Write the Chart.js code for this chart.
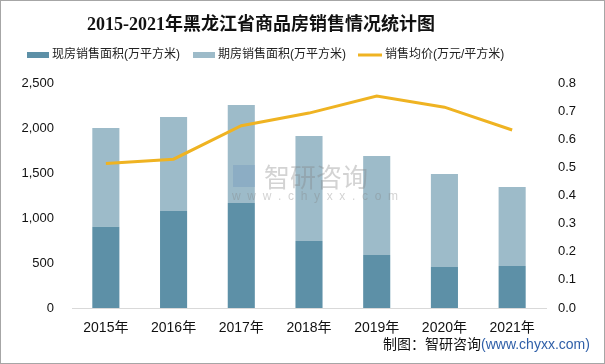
<!DOCTYPE html>
<html><head><meta charset="utf-8">
<script src="https://cdn.jsdelivr.net/npm/chart.js@4.4.1/dist/chart.umd.min.js"></script>
<style>html,body{margin:0;padding:0;background:#fff;}canvas{display:block;}</style>
</head><body>
<canvas id="c" width="605" height="364"></canvas>
<script>
const categories = ['2015年','2016年','2017年','2018年','2019年','2020年','2021年'];
const existingArea = [903, 1078, 1167, 744, 589, 456, 467];
const futureArea = [1097, 1044, 1089, 1167, 1100, 1033, 877];
const avgPrice = [0.514, 0.529, 0.648, 0.693, 0.754, 0.714, 0.633];
const seriesNames = ['现房销售面积(万平方米)','期房销售面积(万平方米)','销售均价(万元/平方米)'];
const titleText = '2015-2021年黑龙江省商品房销售情况统计图';

const C_DARK = '#5d90a7', C_LIGHT = '#9dbbc9', C_LINE = '#efb322';
const CJK = '"Liberation Sans","Noto Sans CJK SC",sans-serif';

const decor = {
  id: 'decor',
  afterDatasetsDraw(chart) {
    const ctx = chart.ctx;
    ctx.save();
    ctx.textBaseline = 'middle';
    ctx.textAlign = 'left';
    ctx.fillStyle = 'rgba(110,150,185,0.35)';
    ctx.fillRect(233, 165, 22, 22);
    ctx.fillStyle = 'rgba(130,130,130,0.35)';
    ctx.font = '26px "Noto Sans CJK SC",sans-serif';
    ctx.fillText('智研咨询', 264, 177);
    ctx.font = '12px "Liberation Sans",sans-serif';
    ctx.fillText('w  w  w  .  c  h  y  x  x  .  c  o  m', 232, 197);
    ctx.restore();
  },
  afterDraw(chart) {
    const ctx = chart.ctx;
    ctx.save();
    ctx.fillStyle = '#111';
    ctx.font = 'bold 18px "Liberation Serif","Noto Sans CJK SC",serif';
    ctx.textAlign = 'center';
    ctx.textBaseline = 'middle';
    ctx.fillText(titleText, 261, 25);
    ctx.font = '12px ' + CJK;
    ctx.textAlign = 'left';
    ctx.fillStyle = C_DARK; ctx.fillRect(27, 52, 22, 6);
    ctx.fillStyle = C_LIGHT; ctx.fillRect(193, 52, 22, 6);
    ctx.strokeStyle = C_LINE; ctx.lineWidth = 3;
    ctx.beginPath(); ctx.moveTo(358, 55); ctx.lineTo(382, 55); ctx.stroke();
    ctx.fillStyle = '#222';
    ctx.fillText(seriesNames[0], 52, 55);
    ctx.fillText(seriesNames[1], 218, 55);
    ctx.fillText(seriesNames[2], 385, 55);
    ctx.font = '14px ' + CJK;
    const t1 = '制图：智研咨询';
    ctx.fillStyle = '#111';
    ctx.fillText(t1, 383, 345);
    const w = ctx.measureText(t1).width;
    ctx.fillStyle = '#2f5fa8';
    ctx.fillText('(www.chyxx.com)', 383 + w, 345);
    ctx.strokeStyle = '#a6a6a6'; ctx.lineWidth = 1;
    ctx.strokeRect(0.5, 0.5, 604, 363);
    ctx.restore();
  }
};

new Chart(document.getElementById('c'), {
  data: {
    labels: categories,
    datasets: [
      { type: 'line', label: seriesNames[2], data: avgPrice, yAxisID: 'y1',
        borderColor: C_LINE, borderWidth: 3, pointRadius: 0, tension: 0, order: 0 },
      { type: 'bar', label: seriesNames[0], data: existingArea, yAxisID: 'y',
        backgroundColor: C_DARK, barPercentage: 0.8, categoryPercentage: 0.5, order: 1, stack: 's' },
      { type: 'bar', label: seriesNames[1], data: futureArea, yAxisID: 'y',
        backgroundColor: C_LIGHT, barPercentage: 0.8, categoryPercentage: 0.5, order: 1, stack: 's' }
    ]
  },
  options: {
    responsive: false,
    animation: false,
    layout: { padding: { top: 83, left: 0, right: 0, bottom: 0 } },
    plugins: { legend: { display: false }, title: { display: false }, tooltip: { enabled: false } },
    scales: {
      x: {
        stacked: true,
        grid: { display: false, drawTicks: false },
        border: { display: true, color: '#d9d9d9', width: 1 },
        ticks: { color: '#111', font: { family: CJK, size: 14 }, padding: 12, maxRotation: 0 },
        afterFit(s) { s.height = 56; }
      },
      y: {
        stacked: true, position: 'left', min: 0, max: 2500,
        grid: { display: false, drawTicks: false },
        border: { display: false },
        ticks: { stepSize: 500, color: '#111', font: { family: '"Liberation Sans",sans-serif', size: 13 }, padding: 18,
          callback: v => v.toLocaleString('en-US') },
        afterFit(s) { s.width = 72; }
      },
      y1: {
        position: 'right', min: 0, max: 0.8,
        grid: { display: false, drawTicks: false },
        border: { display: false },
        ticks: { stepSize: 0.1, color: '#111', font: { family: '"Liberation Sans",sans-serif', size: 13 }, padding: 12,
          callback: v => Number(v).toFixed(1) },
        afterFit(s) { s.width = 59; }
      }
    }
  },
  plugins: [decor]
});
</script>
</body></html>
